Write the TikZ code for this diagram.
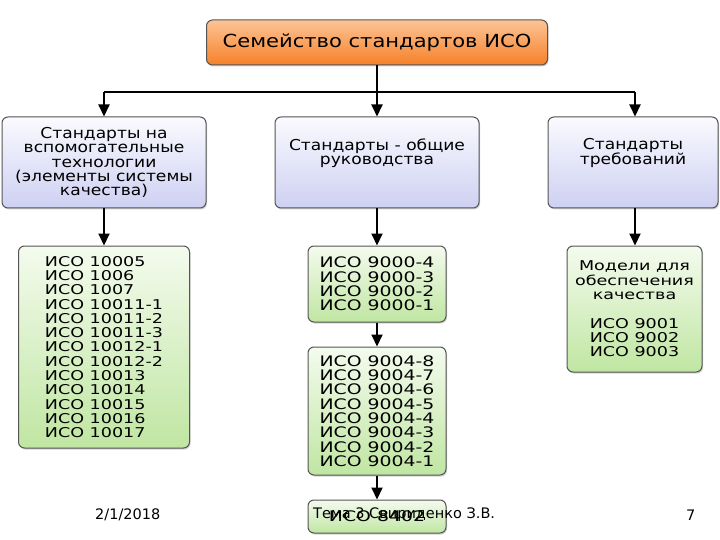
\documentclass[tikz,border=0pt]{standalone}
\usepackage{fontspec}
\setmainfont{DejaVu Sans}
\newfontfamily\titlefont{DejaVu Sans}[FakeStretch=1.17]
\newfontfamily\boxfont{DejaVu Sans}[FakeStretch=1.14]
\newfontfamily\listfont{DejaVu Sans}[FakeStretch=1.3]
\usetikzlibrary{arrows.meta,shadows}
\definecolor{orT}{RGB}{253,196,150}
\definecolor{orB}{RGB}{246,128,40}
\definecolor{blT}{RGB}{250,250,255}
\definecolor{blB}{RGB}{206,208,242}
\definecolor{grT}{RGB}{244,251,238}
\definecolor{grB}{RGB}{192,230,162}
\definecolor{edge}{RGB}{85,85,85}
\tikzset{
  basebox/.style={draw=edge, line width=1pt, rounded corners=6pt, inner sep=2pt,
    drop shadow={shadow xshift=1pt, shadow yshift=-1.5pt, opacity=0.35}},
  topbox/.style={basebox, top color=orT, bottom color=orB,
    font=\titlefont\fontsize{18}{20}\selectfont},
  catbox/.style={basebox, top color=blT, bottom color=blB, align=center,
    font=\boxfont\fontsize{15}{14.3}\selectfont},
  listbox/.style={basebox, top color=grT, bottom color=grB,
    font=\listfont\fontsize{13.5}{14.3}\selectfont},
  midlist/.style={listbox, font=\listfont\fontsize{14.5}{14.3}\selectfont},
  arr/.style={line width=2pt, -{Triangle[length=12pt,width=11pt]}},
  ln/.style={line width=2pt},
  foot/.style={font=\fontsize{14.5}{16}\selectfont, inner sep=0pt}
}
\begin{document}
\begin{tikzpicture}[x=1pt,y=-1pt]
\useasboundingbox (0,0) rectangle (720,540);
\fill[white] (0,0) rectangle (720,540);
\node[topbox, minimum width=341pt, minimum height=45pt] (top) at (377,42.5) {Семейство стандартов ИСО};
\node[catbox, minimum width=204pt, minimum height=91pt] (L) at (104,162.5)
  {Стандарты на\\вспомогательные\\технологии\\(элементы системы\\качества)};
\node[catbox, minimum width=204pt, minimum height=91pt] (M) at (377,162.5)
  {Стандарты - общие\\руководства\\[8pt]};
\node[catbox, minimum width=170pt, minimum height=91pt] (R) at (633,162.5)
  {Стандарты\\требований\\[8pt]};
\node[listbox, minimum width=171pt, minimum height=202pt, align=left] (LL) at (104,347)
  {ИСО 10005\\ИСО 1006\\ИСО 1007\\ИСО 10011-1\\ИСО 10011-2\\ИСО 10011-3\\ИСО 10012-1\\ИСО 10012-2\\ИСО 10013\\ИСО 10014\\ИСО 10015\\ИСО 10016\\ИСО 10017};
\node[midlist, minimum width=138pt, minimum height=76pt, align=left] (M1) at (377,284)
  {ИСО 9000-4\\ИСО 9000-3\\ИСО 9000-2\\ИСО 9000-1};
\node[midlist, minimum width=138pt, minimum height=128pt, align=left] (M2) at (377,411)
  {ИСО 9004-8\\ИСО 9004-7\\ИСО 9004-6\\ИСО 9004-5\\ИСО 9004-4\\ИСО 9004-3\\ИСО 9004-2\\ИСО 9004-1};
\node[midlist, minimum width=138pt, minimum height=33pt] (M3) at (377,516.5) {ИСО 8402};
\node[listbox, minimum width=135pt, minimum height=126pt, align=center] (RL) at (634.5,309)
  {Модели для\\обеспечения\\качества\\[14.3pt]ИСО 9001\\ИСО 9002\\ИСО 9003};
\coordinate (jn) at (377,92);
\coordinate (jl) at (104,92);
\coordinate (jr) at (635,92);
\draw[ln] (top.south) -- (jn);
\draw[ln] (jl) -- (jr);
\draw[arr] (jl) -- (L.north);
\draw[arr] (jn) -- (M.north);
\draw[arr] (jr) -- (jr |- R.north);
\draw[arr] (L.south) -- (LL.north);
\draw[arr] (M.south) -- (M1.north);
\draw[arr] (M1.south) -- (M2.north);
\draw[arr] (M2.south) -- (M3.north);
\draw[arr] (jr |- R.south) -- (jr |- RL.north);
\node[foot, anchor=west] (date) at (95,515) {2/1/2018};
\node[foot, anchor=west] (auth) at (313,515) {Тема 3 Свириденко З.В.};
\node[foot, anchor=west] (pg) at (686,515) {7};
\end{tikzpicture}
\end{document}
